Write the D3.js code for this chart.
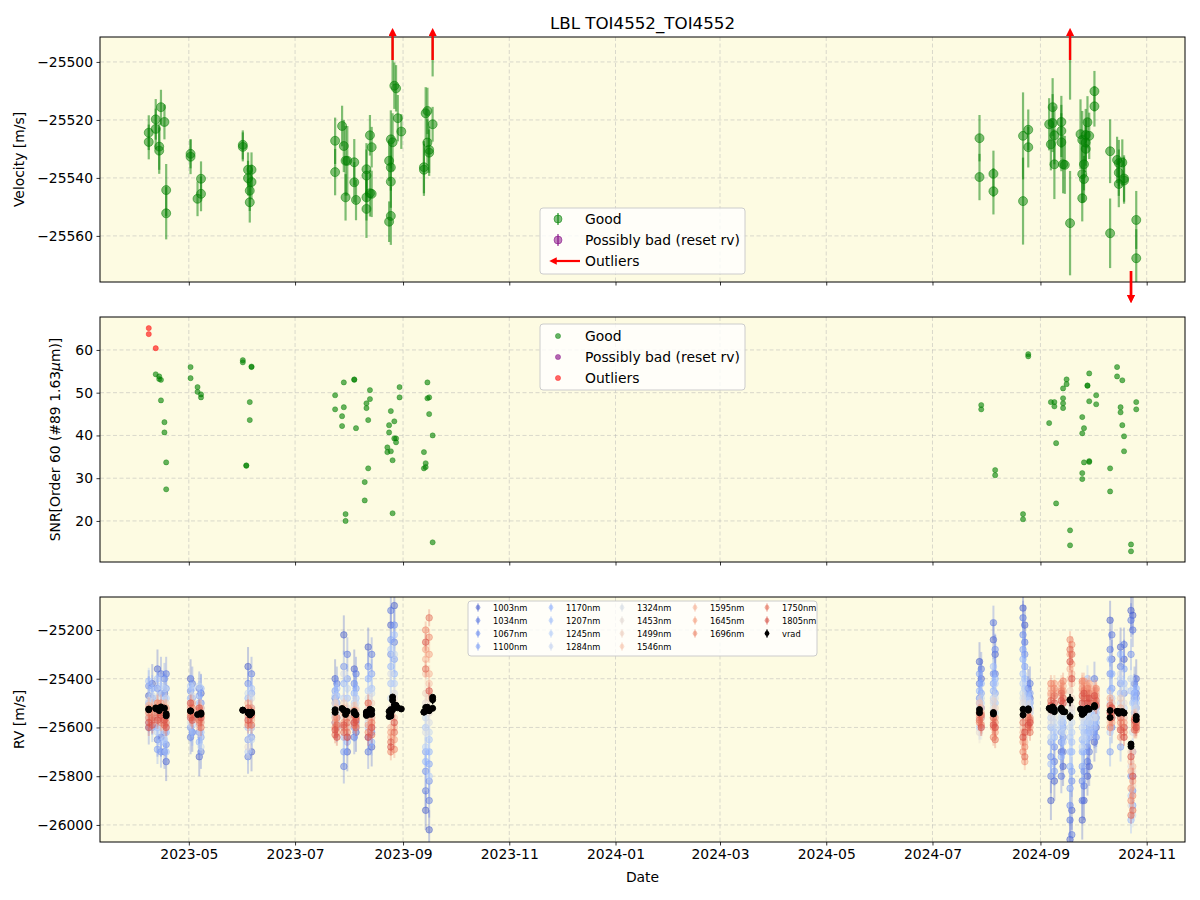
<!DOCTYPE html>
<html>
<head>
<meta charset="utf-8">
<script src="https://cdn.jsdelivr.net/npm/d3@7"></script>
<style>
  body { margin: 0; background: #fff; }
  text { font-family: "DejaVu Sans", sans-serif; }
</style>
</head>
<body>
<script>
// ---- data ----
// panel 1: good velocities
var velDates = ["2023-04-08","2023-04-08","2023-04-12","2023-04-12","2023-04-15","2023-04-14","2023-04-14","2023-04-17","2023-04-18","2023-04-18",
  "2023-05-02","2023-05-02","2023-05-06","2023-05-08","2023-05-08","2023-06-01","2023-06-01","2023-06-04","2023-06-06","2023-06-06",
  "2023-06-05","2023-06-05","2023-06-04","2023-07-24","2023-07-24","2023-07-28","2023-07-29","2023-07-30","2023-07-31","2023-07-30",
  "2023-08-04","2023-08-04","2023-08-05","2023-08-11","2023-08-11","2023-08-11","2023-08-11","2023-08-13","2023-08-14","2023-08-13",
  "2023-08-14","2023-08-24","2023-08-25","2023-08-24","2023-08-25","2023-08-25","2023-08-25","2023-08-26","2023-08-27","2023-08-28",
  "2023-08-29","2023-08-31","2023-09-13","2023-09-13","2023-09-14","2023-09-15","2023-09-15","2023-09-16","2023-09-16","2023-09-18",
  "2023-08-26","2023-09-18",
  "2024-07-28","2024-07-28","2024-08-05","2024-08-05","2024-08-22","2024-08-22","2024-08-25","2024-08-25","2024-09-06","2024-09-07",
  "2024-09-08","2024-09-08","2024-09-09","2024-09-09","2024-09-13","2024-09-13","2024-09-13","2024-09-14","2024-09-15","2024-09-18",
  "2024-09-18","2024-09-24","2024-09-25","2024-09-25","2024-09-26","2024-09-25","2024-09-26","2024-09-27","2024-09-28","2024-09-29",
  "2024-09-27","2024-09-27","2024-10-02","2024-10-02","2024-10-11","2024-10-11","2024-10-15","2024-10-16","2024-10-18","2024-10-16",
  "2024-10-16","2024-10-19","2024-10-19","2024-10-26","2024-10-26"];
var velValues = [-25524.4,-25527.6,-25519.8,-25523.1,-25515.6,-25529.2,-25530.6,-25520.7,-25544.2,-25552.2,
  -25532.7,-25531.7,-25547.2,-25540.3,-25545.5,-25528.6,-25529.3,-25537.2,-25537.2,-25541.4,
  -25544.4,-25548.4,-25540.1,-25527.2,-25538.0,-25522.1,-25529.0,-25534.1,-25534.1,-25546.7,
  -25534.6,-25541.5,-25547.6,-25550.7,-25546.7,-25537.0,-25539.2,-25525.3,-25529.4,-25545.3,
  -25545.5,-25555.1,-25553.1,-25534.1,-25536.4,-25541.3,-25526.7,-25527.7,-25508.2,-25509.1,
  -25519.4,-25524.0,-25536.3,-25537.2,-25517.7,-25516.9,-25527.8,-25531.3,-25530.3,-25521.5,
  -25488,-25486,
  -25526.3,-25539.7,-25538.6,-25544.6,-25525.5,-25548.0,-25523.4,-25529.4,-25521.5,-25528.4,
  -25515.6,-25521.1,-25525.3,-25535.3,-25520.7,-25523.8,-25527.7,-25535.3,-25535.5,-25555.6,
  -25488,-25524.9,-25526.9,-25538.7,-25540.4,-25547.0,-25535.3,-25525.2,-25520.8,-25525.5,
  -25530.0,-25527.8,-25510.1,-25515.3,-25530.8,-25559.1,-25533.8,-25534.9,-25534.7,-25538.2,
  -25542.1,-25540.2,-25540.9,-25554.5,-25567.7];
var velErrors = [6,6,7,7,6,8,8,6,9,9,
  6,5,6,6,6,5,5,6,6,6,
  7,7,6,8,8,7,9,12,12,8,
  8,7,7,10,8,9,9,7,7,8,
  8,7,10,7,8,9,10,10,8,8,
  8,6,9,9,9,8,8,8,8,6,
  20,19,
  8,8,8,8,15,15,7,7,9,9,
  10,10,10,12,9,9,10,10,10,18,
  25,12,10,10,8,8,9,9,9,8,
  8,8,7,7,11,12,8,8,8,8,
  8,8,8,10,10];

// panel 1: outliers (off scale, drawn as arrows)
var outDates = ["2023-08-26","2023-09-18","2024-09-18","2024-10-23","2024-10-23"];
var outValues = [-25475,-25476,-25486,-25668,-25678];
var outErrors = [8,8,10,10,10];

// panel 2: SNR
var snrDates = ["2023-04-12","2023-04-14","2023-04-14","2023-04-15","2023-04-15","2023-04-17","2023-04-17","2023-04-18","2023-04-18",
  "2023-05-02","2023-05-02","2023-05-06","2023-05-06","2023-05-08","2023-05-08","2023-06-01","2023-06-01","2023-06-06","2023-06-06",
  "2023-06-05","2023-06-05","2023-06-03","2023-06-03","2023-07-24","2023-07-24","2023-07-29","2023-07-29","2023-07-28","2023-07-28",
  "2023-08-04","2023-08-04","2023-08-05","2023-07-30","2023-07-30","2023-08-13","2023-08-13","2023-08-11","2023-08-11","2023-08-12",
  "2023-08-12","2023-08-10","2023-08-10","2023-08-25","2023-08-27","2023-08-24","2023-08-24","2023-08-27","2023-08-28","2023-08-28",
  "2023-08-23","2023-08-23","2023-08-25","2023-08-26","2023-08-26","2023-08-30","2023-08-30","2023-09-15","2023-09-15","2023-09-16",
  "2023-09-16","2023-09-18","2023-09-13","2023-09-14","2023-09-13","2023-09-14","2023-09-18",
  "2024-07-29","2024-07-29","2024-08-06","2024-08-06","2024-08-22","2024-08-22","2024-08-25","2024-08-25","2024-09-16","2024-09-16",
  "2024-09-14","2024-09-14","2024-09-14","2024-09-14","2024-09-07","2024-09-09","2024-09-09","2024-09-06","2024-09-10","2024-09-10",
  "2024-09-18","2024-09-18","2024-09-29","2024-09-28","2024-09-28","2024-09-29","2024-10-03","2024-10-03","2024-09-25","2024-09-26",
  "2024-09-25","2024-09-26","2024-09-29","2024-09-29","2024-09-25","2024-09-25","2024-10-11","2024-10-11","2024-10-15","2024-10-15",
  "2024-10-18","2024-10-17","2024-10-17","2024-10-18","2024-10-19","2024-10-19","2024-10-26","2024-10-26","2024-10-23","2024-10-23"];
var snrValues = [54.3,53.8,53.2,53.0,48.2,43.1,40.7,33.7,27.4,
  56.0,53.4,51.3,50.2,49.6,48.9,57.6,57.1,56.0,56.1,
  47.8,43.6,33.0,32.9,49.4,46.1,52.4,46.6,44.5,42.2,
  53.1,53.0,41.7,21.6,20.0,50.6,48.5,47.5,46.4,43.6,
  32.3,29.1,24.8,45.7,43.3,42.4,40.7,39.3,39.3,38.4,
  37.2,36.1,36.3,34.2,21.8,51.3,48.9,52.4,48.7,48.9,
  45.0,40.0,36.1,33.5,32.3,32.6,15.0,
  47.1,46.1,31.9,30.7,21.6,20.4,59.0,58.5,53.1,52.0,
  51.0,48.7,47.5,46.4,47.8,47.8,46.8,42.9,38.2,24.1,
  17.8,14.3,54.5,51.6,51.7,48.0,49.4,47.3,44.3,41.7,
  40.5,33.7,34.0,33.8,31.2,29.8,32.3,26.9,56.0,53.8,
  52.9,46.6,45.4,42.4,39.8,36.3,47.8,46.1,14.5,12.9];
var snrOutDates = ["2023-04-08","2023-04-08","2023-04-12"];
var snrOutValues = [65.1,63.7,60.4];

// panel 3: per-wavelength RV, one row per epoch
var wavelengths = [1003,1034,1067,1100,1170,1207,1245,1284,1324,1453,1499,1546,1595,1645,1696,1750,1805];
var waveErrors = [80,70,65,60,55,55,50,50,50,45,40,40,35,35,35,35,35];
var rvEpochs = ["2023-04-08","2023-04-13","2023-04-18","2023-05-02","2023-05-07","2023-06-04","2023-07-24","2023-07-29","2023-08-04",
  "2023-08-12","2023-08-27","2023-09-16","2024-07-28","2024-08-05","2024-08-22","2024-08-25","2024-09-07","2024-09-14","2024-09-18",
  "2024-09-25","2024-09-28","2024-10-02","2024-10-11","2024-10-17","2024-10-23","2024-10-26"];
var rvTable = [
  [-25470,-25600,-25430,-25560,-25500,-25410,-25580,-25520,-25490,-25540,-25560,-25520,-25510,-25560,-25540,-25600,-25580],
  [-25360,-25650,-25440,-25690,-25600,-25400,-25620,-25480,-25560,-25540,-25510,-25500,-25520,-25560,-25500,-25540,-25570],
  [-25740,-25380,-25670,-25440,-25620,-25700,-25480,-25560,-25600,-25590,-25500,-25530,-25560,-25520,-25580,-25550,-25600],
  [-25400,-25640,-25450,-25600,-25480,-25560,-25430,-25520,-25580,-25500,-25540,-25510,-25540,-25520,-25550,-25560,-25500],
  [-25720,-25440,-25620,-25470,-25660,-25500,-25590,-25430,-25540,-25560,-25520,-25600,-25560,-25530,-25580,-25570,-25520],
  [-25350,-25720,-25420,-25650,-25480,-25600,-25700,-25460,-25560,-25680,-25530,-25580,-25500,-25550,-25590,-25520,-25570],
  [-25400,-25480,-25580,-25450,-25500,-25550,-25470,-25520,-25560,-25530,-25500,-25540,-25560,-25580,-25600,-25630,-25610],
  [-25220,-25760,-25350,-25700,-25420,-25640,-25480,-25600,-25380,-25560,-25500,-25520,-25540,-25580,-25600,-25620,-25590],
  [-25360,-25640,-25420,-25600,-25460,-25580,-25500,-25550,-25520,-25540,-25510,-25560,-25570,-25530,-25590,-25550,-25580],
  [-25270,-25700,-25350,-25640,-25400,-25600,-25450,-25580,-25480,-25520,-25560,-25500,-25530,-25590,-25620,-25500,-25640],
  [-25100,-25250,-25180,-25320,-25380,-25220,-25420,-25300,-25460,-25480,-25500,-25560,-25600,-25650,-25690,-25620,-25580],
  [-26020,-25900,-25820,-25750,-25700,-25650,-25800,-25620,-25580,-25540,-25480,-25420,-25380,-25300,-25230,-25150,-25450],
  [-25330,-25420,-25480,-25380,-25450,-25500,-25600,-25560,-25520,-25620,-25540,-25500,-25560,-25550,-25580,-25570,-25540],
  [-25240,-25170,-25380,-25420,-25450,-25350,-25480,-25500,-25520,-25490,-25540,-25560,-25580,-25600,-25640,-25560,-25590],
  [-25110,-25150,-25220,-25280,-25320,-25380,-25420,-25460,-25480,-25500,-25560,-25600,-25620,-25660,-25700,-25580,-25640],
  [-25440,-25460,-25480,-25500,-25470,-25520,-25490,-25510,-25540,-25560,-25530,-25550,-25570,-25580,-25600,-25560,-25590],
  [-25900,-25800,-25720,-25660,-25600,-25750,-25560,-25640,-25580,-25540,-25500,-25470,-25440,-25460,-25420,-25490,-25510],
  [-25760,-25700,-25640,-25600,-25580,-25660,-25560,-25620,-25540,-25510,-25480,-25460,-25430,-25450,-25410,-25480,-25500],
  [-26060,-25980,-25920,-25850,-25760,-25700,-25640,-25600,-25560,-25500,-25450,-25400,-25360,-25300,-25240,-25280,-25330],
  [-25980,-25900,-25820,-25760,-25700,-25650,-25600,-25680,-25560,-25520,-25480,-25450,-25420,-25440,-25410,-25470,-25500],
  [-25800,-25740,-25680,-25620,-25580,-25400,-25640,-25560,-25540,-25500,-25470,-25450,-25430,-25460,-25440,-25480,-25500],
  [-25660,-25400,-25620,-25580,-25550,-25600,-25540,-25520,-25560,-25490,-25470,-25450,-25440,-25460,-25480,-25500,-25470],
  [-25160,-25280,-25380,-25700,-25450,-25320,-25620,-25500,-25560,-25540,-25520,-25580,-25480,-25560,-25600,-25510,-25540],
  [-25270,-25350,-25420,-25680,-25300,-25460,-25400,-25500,-25380,-25550,-25480,-25600,-25520,-25640,-25580,-25560,-25610],
  [-25120,-25160,-25300,-25800,-25980,-25450,-25880,-25400,-25760,-25920,-25700,-25740,-25780,-25850,-25900,-25960,-25720],
  [-25400,-25460,-25520,-25480,-25440,-25500,-25560,-25540,-25520,-25580,-25600,-25560,-25570,-25590,-25610,-25580,-25600]
];
// second set of nights inside the same observing runs
var rvEpochs2 = ["2023-04-10","2023-04-15","2023-04-17","2023-05-03","2023-05-08","2023-06-06","2023-07-25","2023-07-31","2023-08-05",
  "2023-08-14","2023-08-25","2023-09-14","2024-07-29","2024-08-06","2024-08-23","2024-08-26","2024-09-09","2024-09-13","2024-09-19",
  "2024-09-26","2024-09-29","2024-10-03","2024-10-12","2024-10-19","2024-10-24","2024-10-25"];
var rvTable2 = [
  [-25420,-25560,-25480,-25600,-25440,-25540,-25500,-25470,-25580,-25510,-25550,-25530,-25540,-25520,-25570,-25560,-25590],
  [-25640,-25380,-25700,-25460,-25520,-25660,-25430,-25600,-25500,-25570,-25530,-25560,-25540,-25500,-25580,-25520,-25550],
  [-25460,-25700,-25400,-25620,-25480,-25560,-25650,-25440,-25520,-25580,-25600,-25540,-25520,-25560,-25540,-25590,-25570],
  [-25620,-25420,-25560,-25480,-25620,-25440,-25590,-25500,-25470,-25550,-25520,-25560,-25500,-25560,-25520,-25540,-25570],
  [-25460,-25700,-25500,-25640,-25440,-25620,-25520,-25680,-25580,-25530,-25570,-25540,-25520,-25580,-25550,-25600,-25560],
  [-25700,-25380,-25640,-25460,-25600,-25440,-25520,-25650,-25480,-25600,-25560,-25530,-25570,-25520,-25540,-25590,-25550],
  [-25560,-25420,-25500,-25600,-25470,-25440,-25580,-25500,-25540,-25560,-25580,-25520,-25600,-25620,-25560,-25590,-25640],
  [-25700,-25300,-25640,-25400,-25660,-25480,-25560,-25440,-25600,-25520,-25560,-25540,-25600,-25560,-25620,-25580,-25640],
  [-25620,-25380,-25580,-25440,-25600,-25480,-25560,-25500,-25540,-25520,-25560,-25530,-25550,-25590,-25560,-25600,-25570],
  [-25680,-25300,-25620,-25380,-25660,-25440,-25600,-25460,-25560,-25540,-25500,-25580,-25600,-25560,-25580,-25630,-25600],
  [-25180,-25120,-25300,-25240,-25350,-25420,-25280,-25480,-25380,-25520,-25540,-25600,-25640,-25620,-25700,-25660,-25680],
  [-25940,-25860,-25780,-25700,-25740,-25600,-25680,-25560,-25620,-25500,-25460,-25380,-25320,-25280,-25200,-25360,-25250],
  [-25400,-25360,-25520,-25460,-25420,-25560,-25500,-25480,-25600,-25540,-25580,-25520,-25540,-25560,-25590,-25550,-25600],
  [-25300,-25380,-25280,-25460,-25400,-25500,-25420,-25540,-25480,-25560,-25520,-25600,-25560,-25620,-25580,-25650,-25600],
  [-25180,-25250,-25300,-25350,-25400,-25440,-25480,-25500,-25520,-25560,-25600,-25640,-25660,-25740,-25680,-25720,-25620],
  [-25480,-25420,-25500,-25460,-25520,-25490,-25540,-25500,-25560,-25530,-25560,-25580,-25560,-25600,-25570,-25620,-25580],
  [-25820,-25740,-25680,-25780,-25640,-25620,-25600,-25580,-25560,-25520,-25480,-25450,-25460,-25420,-25440,-25470,-25500],
  [-25700,-25800,-25660,-25620,-25720,-25580,-25600,-25560,-25540,-25520,-25500,-25470,-25440,-25420,-25450,-25460,-25490],
  [-25940,-26040,-25820,-25780,-25700,-25660,-25620,-25580,-25540,-25520,-25480,-25420,-25380,-25340,-25260,-25300,-25400],
  [-25900,-25840,-25780,-25700,-25660,-25620,-25580,-25640,-25540,-25500,-25470,-25440,-25430,-25410,-25450,-25480,-25460],
  [-25760,-25700,-25640,-25600,-25560,-25620,-25540,-25580,-25520,-25490,-25460,-25440,-25450,-25420,-25460,-25500,-25480],
  [-25600,-25560,-25640,-25520,-25580,-25540,-25500,-25560,-25520,-25480,-25460,-25500,-25450,-25470,-25440,-25490,-25510],
  [-25320,-25220,-25600,-25440,-25380,-25560,-25480,-25540,-25500,-25560,-25500,-25540,-25520,-25580,-25540,-25560,-25520],
  [-25320,-25260,-25460,-25360,-25600,-25420,-25520,-25440,-25560,-25500,-25540,-25560,-25600,-25580,-25620,-25600,-25640],
  [-25140,-25200,-25860,-25920,-25700,-25800,-25500,-25960,-25620,-25780,-25840,-25700,-25760,-25820,-25880,-25940,-25800],
  [-25460,-25420,-25480,-25540,-25500,-25460,-25520,-25580,-25560,-25540,-25570,-25600,-25580,-25560,-25590,-25610,-25570]
];

var velTicks = [-25560,-25540,-25520,-25500];
var snrTicks = [20,30,40,50,60];
var rvTicks = [-26000,-25800,-25600,-25400,-25200];

// ---- layout ----
var left = 100, right = 1185;
var p1 = {top: 37, bottom: 282}, p2 = {top: 317, bottom: 562}, p3 = {top: 597, bottom: 842};
var bg = "#fdfbe2";
var fs = "13.9px";

var parse = d3.utcParse("%Y-%m-%d");
var x = d3.scaleUtc()
  .domain([parse("2023-03-11"), parse("2024-11-23")])
  .range([left, right]);
var yVel = d3.scaleLinear().domain([-25575.9, -25491.4]).range([p1.bottom, p1.top]);
var ySnr = d3.scaleLinear().domain([10.4, 67.7]).range([p2.bottom, p2.top]);
var yRv = d3.scaleLinear().domain([-26070, -25064.6]).range([p3.bottom, p3.top]);

var coolwarm = d3.piecewise(d3.interpolateRgb, ["#3b4cc0","#6282ea","#8db0fe","#b8d0f9","#dddddd","#f5c4ad","#f49a7b","#de604d","#b40426"]);
function waveColor(j) { return coolwarm(0.04 + 0.86 * j / (wavelengths.length - 1)); }

var svg = d3.select("body").append("svg")
  .attr("width", 1200)
  .attr("height", 900);

var defs = svg.append("defs");
defs.append("marker")
  .attr("id", "arrowhead")
  .attr("viewBox", "0 0 10 10")
  .attr("refX", 5).attr("refY", 5)
  .attr("markerWidth", 3.4).attr("markerHeight", 3.4)
  .attr("orient", "auto")
  .append("path").attr("d", "M0,0 L10,5 L0,10 z").attr("fill", "red");

function setupPanel(p, y, ticks, id) {
  defs.append("clipPath").attr("id", id)
    .append("rect").attr("x", left).attr("y", p.top)
    .attr("width", right - left).attr("height", p.bottom - p.top);

  svg.append("rect")
    .attr("x", left).attr("y", p.top)
    .attr("width", right - left).attr("height", p.bottom - p.top)
    .attr("fill", bg);

  var grid = svg.append("g")
    .attr("stroke", "#b0b0b0").attr("stroke-opacity", 0.6)
    .attr("stroke-width", 0.8).attr("stroke-dasharray", "4,2.5");
  x.ticks(d3.utcMonth.every(2)).forEach(function(t) {
    grid.append("line").attr("x1", x(t)).attr("x2", x(t)).attr("y1", p.top).attr("y2", p.bottom);
  });
  ticks.forEach(function(t) {
    grid.append("line").attr("x1", left).attr("x2", right).attr("y1", y(t)).attr("y2", y(t));
  });

  return svg.append("g").attr("clip-path", "url(#" + id + ")");
}

function finishPanel(p, y, ticks, showX) {
  var ya = svg.append("g")
    .attr("transform", "translate(" + left + ",0)")
    .call(d3.axisLeft(y).tickValues(ticks).tickFormat(d3.format("d")).tickSize(3.5).tickPadding(3.5));
  var xa = svg.append("g")
    .attr("transform", "translate(0," + p.bottom + ")")
    .call(d3.axisBottom(x).ticks(d3.utcMonth.every(2)).tickFormat(showX ? d3.utcFormat("%Y-%m") : "")
      .tickSize(3.5).tickPadding(3.5));
  [ya, xa].forEach(function(a) {
    a.select(".domain").remove();
    a.selectAll("text").attr("font-size", fs).attr("fill", "#000")
      .attr("font-family", "DejaVu Sans, sans-serif");
    a.selectAll("line").attr("stroke", "#000").attr("stroke-width", 0.8);
  });
  svg.append("rect")
    .attr("x", left).attr("y", p.top)
    .attr("width", right - left).attr("height", p.bottom - p.top)
    .attr("fill", "none").attr("stroke", "#000").attr("stroke-width", 1);
}

function errorbars(g, dates, vals, errs, y, color, lw, r, op, bop) {
  var data = dates.map(function(d, i) { return {d: parse(d), v: vals[i], e: errs[i]}; });
  g.selectAll(null).data(data).enter().append("line")
    .attr("x1", function(d) { return x(d.d); })
    .attr("x2", function(d) { return x(d.d); })
    .attr("y1", function(d) { return y(d.v - d.e); })
    .attr("y2", function(d) { return y(d.v + d.e); })
    .attr("stroke", color).attr("stroke-width", lw).attr("stroke-opacity", bop);
  g.selectAll(null).data(data).enter().append("circle")
    .attr("cx", function(d) { return x(d.d); })
    .attr("cy", function(d) { return y(d.v); })
    .attr("r", r)
    .attr("fill", color).attr("fill-opacity", op)
    .attr("stroke", color).attr("stroke-opacity", op).attr("stroke-width", 1);
}

// ---- panel 1: velocity ----
var g1 = setupPanel(p1, yVel, velTicks, "c1");
errorbars(g1, velDates, velValues, velErrors, yVel, "green", 2.2, 4.5, 0.5, 0.5);
finishPanel(p1, yVel, velTicks, false);

// outlier arrows
outDates.forEach(function(d, i) {
  var v = outValues[i], xx = x(parse(d)), y0, y1;
  if (v > yVel.domain()[1]) { y0 = p1.top + 23; y1 = p1.top - 5; }
  else if (v < yVel.domain()[0]) { y0 = p1.bottom - 11; y1 = p1.bottom + 17; }
  else return;
  svg.append("line")
    .attr("x1", xx).attr("x2", xx).attr("y1", y0).attr("y2", y1)
    .attr("stroke", "red").attr("stroke-width", 2.4)
    .attr("marker-end", "url(#arrowhead)");
});

// ---- panel 2: SNR ----
var g2 = setupPanel(p2, ySnr, snrTicks, "c2");
function dots(g, dates, vals, color) {
  g.selectAll(null).data(dates.map(function(d, i) { return [parse(d), vals[i]]; }))
    .enter().append("circle")
    .attr("cx", function(d) { return x(d[0]); })
    .attr("cy", function(d) { return ySnr(d[1]); })
    .attr("r", 2.6)
    .attr("fill", color).attr("fill-opacity", 0.6)
    .attr("stroke", color).attr("stroke-opacity", 0.6).attr("stroke-width", 0.6);
}
dots(g2, snrDates, snrValues, "green");
dots(g2, snrOutDates, snrOutValues, "red");
finishPanel(p2, ySnr, snrTicks, false);

// ---- panel 3: RV per wavelength ----
var g3 = setupPanel(p3, yRv, rvTicks, "c3");
wavelengths.forEach(function(w, j) {
  var col = waveColor(j);
  var errs = rvEpochs.map(function() { return waveErrors[j]; });
  errorbars(g3, rvEpochs, rvTable.map(function(r) { return r[j]; }), errs, yRv, col, 2, 3.3, 0.45, 0.3);
  errorbars(g3, rvEpochs2, rvTable2.map(function(r) { return r[j]; }), errs, yRv, col, 2, 3.3, 0.45, 0.3);
});
errorbars(g3, velDates.concat(outDates), velValues.concat(outValues),
  velErrors.concat(outErrors), yRv, "#000", 1.5, 3, 1, 1);
finishPanel(p3, yRv, rvTicks, true);

// ---- labels ----
svg.append("text").attr("x", (left + right) / 2).attr("y", 29)
  .attr("text-anchor", "middle").attr("font-size", "16.7px").text("LBL TOI4552_TOI4552");
svg.append("text").attr("x", (left + right) / 2).attr("y", 882)
  .attr("text-anchor", "middle").attr("font-size", fs).text("Date");
function ylabel(txt, xx, p) {
  return svg.append("text")
    .attr("transform", "translate(" + xx + "," + (p.top + p.bottom) / 2 + ") rotate(-90)")
    .attr("text-anchor", "middle").attr("font-size", fs).text(txt);
}
ylabel("Velocity [m/s]", 24, p1);
var snrLab = ylabel("SNR[Order 60 (#89 1.63", 60, p2);
snrLab.append("tspan").attr("font-style", "italic").text("\u03bc");
snrLab.append("tspan").text("m)]");
ylabel("RV [m/s]", 24, p3);

// ---- legends ----
function legendBox(x0, y0, w, h) {
  svg.append("rect").attr("x", x0).attr("y", y0).attr("width", w).attr("height", h)
    .attr("rx", 3).attr("fill", "#fff").attr("fill-opacity", 0.8)
    .attr("stroke", "#cccccc").attr("stroke-width", 1);
}
var legNames = ["Good", "Possibly bad (reset rv)", "Outliers"];
var legColors = ["green", "purple", "red"];

legendBox(540, 208, 205, 66);
legNames.forEach(function(n, i) {
  var yy = 219 + i * 21;
  if (i < 2) {
    svg.append("line").attr("x1", 558).attr("x2", 558).attr("y1", yy - 6).attr("y2", yy + 6)
      .attr("stroke", legColors[i]).attr("stroke-width", 2).attr("stroke-opacity", 0.5);
    svg.append("circle").attr("cx", 558).attr("cy", yy).attr("r", 4)
      .attr("fill", legColors[i]).attr("fill-opacity", 0.5)
      .attr("stroke", legColors[i]).attr("stroke-opacity", 0.5);
  } else {
    svg.append("line").attr("x1", 580).attr("x2", 553).attr("y1", yy).attr("y2", yy)
      .attr("stroke", "red").attr("stroke-width", 2.2).attr("marker-end", "url(#arrowhead)");
  }
  svg.append("text").attr("x", 585).attr("y", yy + 5).attr("font-size", fs).text(n);
});

legendBox(540, 324, 205, 66);
legNames.forEach(function(n, i) {
  var yy = 336 + i * 21;
  svg.append("circle").attr("cx", 558).attr("cy", yy).attr("r", 2.6)
    .attr("fill", legColors[i]).attr("fill-opacity", 0.6)
    .attr("stroke", legColors[i]).attr("stroke-opacity", 0.6).attr("stroke-width", 0.6);
  svg.append("text").attr("x", 585).attr("y", yy + 5).attr("font-size", fs).text(n);
});

legendBox(468, 601, 349, 55);
var legItems = wavelengths.map(function(w, j) {
  return {name: w + "nm", color: waveColor(j), op: 0.55};
}).concat([{name: "vrad", color: "#000", op: 1}]);
var colStart = [0, 4, 8, 12, 15], colMark = [478, 551, 622, 695, 767];
legItems.forEach(function(it, k) {
  var c = d3.bisectRight(colStart, k) - 1, r = k - colStart[c];
  var xx = colMark[c], yy = 607.5 + r * 13;
  svg.append("line").attr("x1", xx).attr("x2", xx).attr("y1", yy - 4).attr("y2", yy + 4)
    .attr("stroke", it.color).attr("stroke-width", 1.5).attr("stroke-opacity", it.op);
  svg.append("circle").attr("cx", xx).attr("cy", yy).attr("r", 2.4)
    .attr("fill", it.color).attr("fill-opacity", it.op);
  svg.append("text").attr("x", xx + 15).attr("y", yy + 3).attr("font-size", "8.3px").text(it.name);
});
</script>
</body>
</html>
